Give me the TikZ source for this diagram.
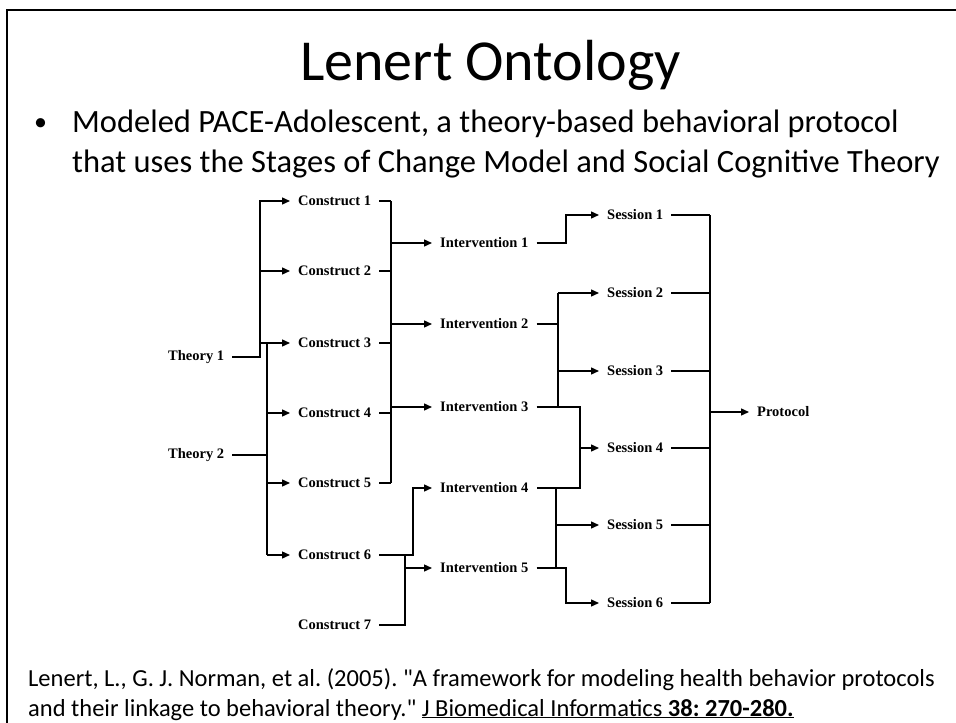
\documentclass[tikz,border=0pt]{standalone}
\usepackage{fontspec}
\setmainfont{Carlito}[Ligatures=TeXOff]
\newfontfamily\diagfont{Liberation Serif}
\usetikzlibrary{arrows.meta}
\frenchspacing
\begin{document}
\begin{tikzpicture}[x=1bp,y=-1bp,
  lbl/.style={anchor=west,inner xsep=8bp,inner ysep=2bp,font=\diagfont\bfseries\fontsize{14.5bp}{16bp}\selectfont},
  wire/.style={line width=1.4bp},
  arr/.style={wire,-{Triangle[length=8bp,width=7bp]}},
  frame/.style={line width=2.2bp}]
\useasboundingbox (0,0) rectangle (956,723);
% frame
\draw[frame] (956,10) -- (7,10) -- (7,723);
% title and bullet
\node[anchor=base west,inner sep=0,font=\fontsize{58bp}{60bp}\selectfont] (title) at (300,81) {Lenert Ontology};
\node[anchor=base west,inner sep=0,font=\fontsize{26bp}{40bp}\selectfont] (bul) at (34,131) {•};
\node[anchor=base west,inner sep=0,align=left,font=\fontsize{32.5bp}{40bp}\selectfont] (body) at (72,173) {Modeled PACE-Adolescent, a theory-based behavioral protocol\\that uses the Stages of Change Model and Social Cognitive Theory};
% citation
\node[anchor=base west,inner sep=0,align=left,font=\fontsize{24.5bp}{30bp}\selectfont] (cite) at (28,716) {\frenchspacing Lenert, L., G. J. Norman, et al. (2005). "A framework for modeling health behavior protocols\\and their linkage to behavioral theory." \underline{J Biomedical Informatics \textbf{38: 270-280.}}};
% nodes
\node[lbl] (T1) at (160,357) {Theory 1};
\node[lbl] (T2) at (160,455) {Theory 2};
\node[lbl] (C1) at (290,201) {Construct 1};
\node[lbl] (C2) at (290,271) {Construct 2};
\node[lbl] (C3) at (290,343) {Construct 3};
\node[lbl] (C4) at (290,413) {Construct 4};
\node[lbl] (C5) at (290,483) {Construct 5};
\node[lbl] (C6) at (290,555) {Construct 6};
\node[lbl] (C7) at (290,625) {Construct 7};
\node[lbl] (I1) at (432,243) {Intervention 1};
\node[lbl] (I2) at (432,324) {Intervention 2};
\node[lbl] (I3) at (432,407) {Intervention 3};
\node[lbl] (I4) at (432,488) {Intervention 4};
\node[lbl] (I5) at (432,568) {Intervention 5};
\node[lbl] (S1) at (599,215) {Session 1};
\node[lbl] (S2) at (599,293) {Session 2};
\node[lbl] (S3) at (599,371) {Session 3};
\node[lbl] (S4) at (599,448) {Session 4};
\node[lbl] (S5) at (599,525) {Session 5};
\node[lbl] (S6) at (599,603) {Session 6};
\node[lbl] (P) at (749,412) {Protocol};
% trunk x positions
\coordinate (xa) at (260,0);
\coordinate (xb) at (267,0);
\coordinate (xc) at (391,0);
\coordinate (xd) at (405,0);
\coordinate (xe) at (413,0);
\coordinate (xf) at (566,0);
\coordinate (xg) at (558,0);
\coordinate (xh) at (580,0);
\coordinate (xi) at (556,0);
\coordinate (xj) at (710,0);
% theories -> constructs
\draw[arr] (T1.east) -| (xa |- C1.west) -- (C1.west);
\draw[arr] (xa |- C2.west) -- (C2.west);
\draw[arr] (xa |- C3.west) -- (C3.west);
\draw[wire] (T2.east) -- (T2.east -| xb);
\draw[wire] (xb |- C3.west) -- (xb |- C6.west);
\draw[arr] (xb |- C4.west) -- (C4.west);
\draw[arr] (xb |- C5.west) -- (C5.west);
\draw[arr] (xb |- C6.west) -- (C6.west);
% constructs -> interventions
\foreach \c in {C1,C2,C3,C4,C5}{\draw[wire] (\c.east) -- (\c.east -| xc);}
\draw[wire] (xc |- C1.east) -- (xc |- C5.east);
\draw[arr] (xc |- I1.west) -- (I1.west);
\draw[arr] (xc |- I2.west) -- (I2.west);
\draw[arr] (xc |- I3.west) -- (I3.west);
\draw[arr] (C6.east) -| (xe |- I4.west) -- (I4.west);
\draw[wire] (C7.east) -| (xd |- C6.east);
\draw[arr] (xd |- I5.west) -- (I5.west);
% interventions -> sessions
\draw[arr] (I1.east) -| (xf |- S1.west) -- (S1.west);
\draw[wire] (I2.east) -- (I2.east -| xg);
\draw[wire] (xg |- S2.west) -- (xg |- I3.east);
\draw[arr] (xg |- S2.west) -- (S2.west);
\draw[arr] (xg |- S3.west) -- (S3.west);
\draw[wire] (I3.east) -| (xh |- I4.east) -- (I4.east);
\draw[arr] (xh |- S4.west) -- (S4.west);
\draw[wire] (xi |- I4.east) -- (xi |- I5.east);
\draw[arr] (xi |- S5.west) -- (S5.west);
\draw[arr] (I5.east) -| (xf |- S6.west) -- (S6.west);
% sessions -> protocol
\foreach \s in {S1,S2,S3,S4,S5,S6}{\draw[wire] (\s.east) -- (\s.east -| xj);}
\draw[wire] (xj |- S1.east) -- (xj |- S6.east);
\draw[arr] (xj |- P.west) -- (P.west);
\end{tikzpicture}
\end{document}
